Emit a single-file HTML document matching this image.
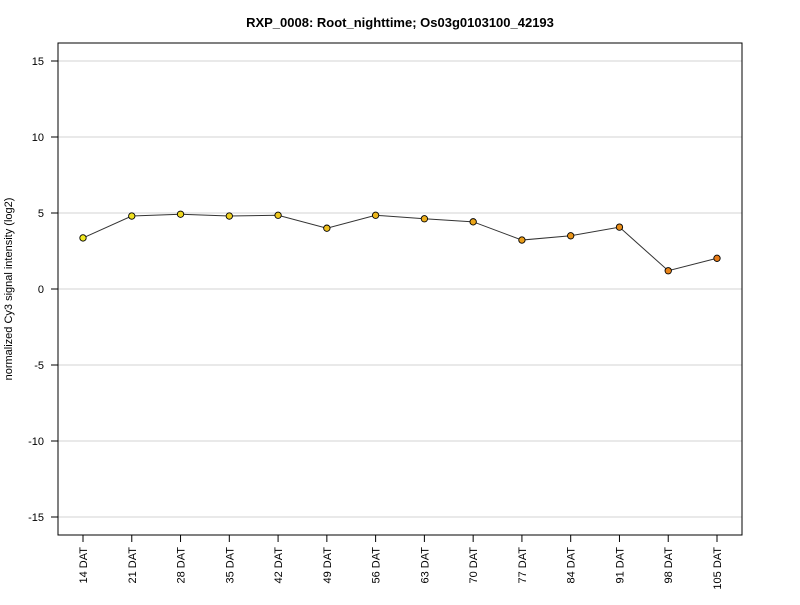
<!DOCTYPE html>
<html><head><meta charset="utf-8"><style>
body{margin:0;background:#fff;font-family:"Liberation Sans",Arial,sans-serif}
svg text{font-family:"Liberation Sans",Arial,sans-serif}
</style></head><body>
<svg id="chart" width="800" height="600" viewBox="0 0 800 600">
<rect x="0" y="0" width="800" height="600" fill="#fff"/>
<text x="400" y="27" text-anchor="middle" font-size="13" font-weight="bold">RXP_0008: Root_nighttime; Os03g0103100_42193</text>
<g id="grid"></g>
<rect x="58" y="43" width="684" height="492" fill="none" stroke="#000" stroke-width="1"/>
<g id="yaxis"></g>
<g id="xaxis"></g>
<text transform="translate(12,289) rotate(-90)" text-anchor="middle" font-size="11">normalized Cy3 signal intensity (log2)</text>
<g id="series"></g>
</svg>
<script>
const categories=["14 DAT","21 DAT","28 DAT","35 DAT","42 DAT","49 DAT","56 DAT","63 DAT","70 DAT","77 DAT","84 DAT","91 DAT","98 DAT","105 DAT"];
const values=[3.36,4.8,4.92,4.8,4.85,4.0,4.85,4.62,4.42,3.22,3.5,4.07,1.2,2.02];
const yTicks=[-15,-10,-5,0,5,10,15];
const NS="http://www.w3.org/2000/svg";
function y(v){return 289-v*15.2;}
function x(i){return 83+i*(717-83)/(categories.length-1);}
function mk(tag,attrs,parent){const e=document.createElementNS(NS,tag);for(const k in attrs)e.setAttribute(k,attrs[k]);parent.appendChild(e);return e;}
const grid=document.getElementById('grid'),ya=document.getElementById('yaxis'),xa=document.getElementById('xaxis'),se=document.getElementById('series');
yTicks.forEach(t=>{
 const g=mk('line',{x1:58,x2:742,y1:y(t),y2:y(t),stroke:'#d3d3d3','stroke-width':1},grid);
 
 
 const tk=mk('line',{x1:51,x2:58,y1:y(t),y2:y(t),stroke:'#000'},ya);
 
 
 const tx=mk('text',{x:44,y:y(t)+4,'text-anchor':'end','font-size':11},ya);
 tx.textContent=t;
 
 
});
categories.forEach((c,i)=>{
 const tk=mk('line',{x1:x(i),x2:x(i),y1:535,y2:542,stroke:'#000'},xa);
 
 
 const tx=mk('text',{transform:`translate(${x(i)+4},547) rotate(-90)`,'text-anchor':'end','font-size':11},xa);
 tx.textContent=c;
 
 
});
const pl=mk('polyline',{points:values.map((v,i)=>x(i)+','+y(v)).join(' '),fill:'none',stroke:'#333','stroke-width':1},se);


values.forEach((v,i)=>{
 const f=i/(values.length-1);
 const r=Math.round(240-8*f),g=Math.round(232-108*f),b=Math.round(32-8*f);
 const c=mk('circle',{cx:x(i),cy:y(v),r:3.2,fill:`rgb(${r},${g},${b})`,stroke:'#000','stroke-width':0.9},se);
 
 
});
</script>
</body></html>
